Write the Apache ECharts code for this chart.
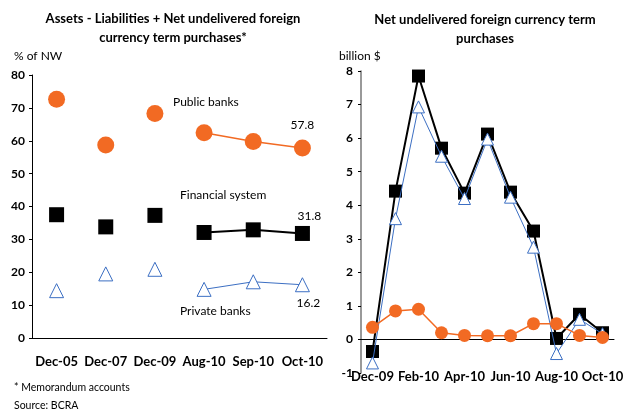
<!DOCTYPE html>
<html>
<head>
<meta charset="utf-8">
<script src="https://cdn.jsdelivr.net/npm/echarts@6/dist/echarts.min.js"></script>
<style>
  html, body { margin: 0; padding: 0; background: #fff; }
  #main { width: 626px; height: 411px; }
</style>
</head>
<body>
<div id="main"></div>
<script>
// left panel: % of net worth
var leftCats = ['Dec-05', 'Dec-07', 'Dec-09', 'Aug-10', 'Sep-10', 'Oct-10'];
var leftPublic = [72.6, 58.7, 68.3, 62.4, 59.8, 57.8];
var leftSystem = [37.5, 33.8, 37.3, 32.1, 32.9, 31.8];
var leftPrivate = [14.4, 19.5, 20.9, 14.8, 17.1, 16.2];
var leftTicks = [0, 10, 20, 30, 40, 50, 60, 70, 80];

// right panel: billion $
var rightCats = ['Dec-09', 'Jan-10', 'Feb-10', 'Mar-10', 'Apr-10', 'May-10',
                 'Jun-10', 'Jul-10', 'Aug-10', 'Sep-10', 'Oct-10'];
var rightSystem = [-0.36, 4.42, 7.85, 5.7, 4.36, 6.12, 4.39, 3.23, 0.03, 0.75, 0.2];
var rightPrivate = [-0.7, 3.6, 6.93, 5.46, 4.2, 5.97, 4.24, 2.75, -0.42, 0.6, 0.17];
var rightPublic = [0.36, 0.85, 0.9, 0.2, 0.12, 0.11, 0.11, 0.47, 0.47, 0.12, 0.06];
var rightTicks = [-1, 0, 1, 2, 3, 4, 5, 6, 7, 8];

var ORANGE = '#f26a23';
var BLUE = '#3c6fc3';
var FONT = 'Lato';

var myChart = echarts.init(document.getElementById('main'));

// only the last three months are joined by a line
function recentOnly(arr) {
    return arr.map(function (v, i) { return i >= 3 ? v : null; });
}
function lastLabel(arr, pos, offset) {
    return arr.map(function (v, i) {
        if (i != arr.length - 1) return v;
        return { value: v, label: { show: true, position: pos, offset: offset,
            formatter: v.toFixed(1), color: '#000', fontFamily: FONT, fontSize: 12 } };
    });
}

var boldAxisLabel = { color: '#000', fontFamily: FONT, fontWeight: 'bold', fontSize: 12 };

var option = {
    animation: false,
    backgroundColor: '#fff',
    title: [
        { text: 'Assets - Liabilities + Net undelivered foreign\ncurrency term purchases*',
          left: 168, top: 4, textAlign: 'center',
          textStyle: { fontFamily: FONT, fontWeight: 'bold', fontSize: 13, lineHeight: 19, color: '#000' } },
        { text: 'Net undelivered foreign currency term\npurchases',
          left: 480, top: 5, textAlign: 'center',
          textStyle: { fontFamily: FONT, fontWeight: 'bold', fontSize: 13, lineHeight: 19, color: '#000' } },
        { text: '% of NW', left: 9, top: 45,
          textStyle: { fontFamily: FONT, fontWeight: 'normal', fontSize: 12, color: '#000' } },
        { text: 'billion $', left: 334, top: 45,
          textStyle: { fontFamily: FONT, fontWeight: 'normal', fontSize: 12, color: '#000' } },
        { text: '* Memorandum accounts', left: 9, top: 377,
          textStyle: { fontFamily: FONT, fontWeight: 'normal', fontSize: 10.5, color: '#000' } },
        { text: 'Source: BCRA', left: 9, top: 395,
          textStyle: { fontFamily: FONT, fontWeight: 'normal', fontSize: 10.5, color: '#000' } }
    ],
    graphic: [
        { type: 'text', left: 173, top: 96, style: { text: 'Public banks', fontFamily: FONT, fontSize: 12, fill: '#000' } },
        { type: 'text', left: 180, top: 189, style: { text: 'Financial system', fontFamily: FONT, fontSize: 12, fill: '#000' } },
        { type: 'text', left: 180, top: 305, style: { text: 'Private banks', fontFamily: FONT, fontSize: 12, fill: '#000' } }
    ],
    grid: [
        { left: 32, top: 75, width: 295, height: 263 },
        { left: 361, top: 71, width: 258, height: 302 }
    ],
    xAxis: [
        { type: 'category', gridIndex: 0, data: leftCats, boundaryGap: true,
          axisLine: { lineStyle: { color: '#000', width: 1 } },
          axisTick: { inside: true, length: 5, interval: 0, lineStyle: { color: '#000' } },
          axisLabel: Object.assign({}, boldAxisLabel, { margin: 17, fontSize: 13, interval: 0 }) },
        { type: 'category', gridIndex: 1, data: rightCats, boundaryGap: true,
          axisLine: { onZero: true, lineStyle: { color: '#000', width: 1 } },
          axisTick: { inside: true, length: 5, interval: 1, lineStyle: { color: '#000' } },
          axisLabel: { show: false } },
        { type: 'category', gridIndex: 1, data: rightCats, boundaryGap: true, position: 'bottom',
          axisLine: { show: false, onZero: false }, axisTick: { show: false },
          axisLabel: Object.assign({}, boldAxisLabel, { margin: -3, interval: 1, fontSize: 13 }) }
    ],
    yAxis: [
        { type: 'value', gridIndex: 0, min: leftTicks[0], max: leftTicks[leftTicks.length - 1], interval: 10,
          splitLine: { show: false },
          axisLine: { show: true, lineStyle: { color: '#000' } },
          axisTick: { show: true, length: 3, lineStyle: { color: '#000' } },
          axisLabel: Object.assign({}, boldAxisLabel, { margin: 7 }) },
        { type: 'value', gridIndex: 1, min: rightTicks[0], max: rightTicks[rightTicks.length - 1], interval: 1,
          splitLine: { show: false },
          axisLine: { show: true, lineStyle: { color: '#777', width: 1.5 } },
          axisTick: { show: true, length: 3, lineStyle: { color: '#000' } },
          axisLabel: Object.assign({}, boldAxisLabel, { margin: 8 }) }
    ],
    series: [
        // left panel: connecting lines for latest months
        { type: 'line', xAxisIndex: 0, yAxisIndex: 0, data: recentOnly(leftPublic), symbol: 'none',
          lineStyle: { color: ORANGE, width: 1.5 }, z: 2 },
        { type: 'line', xAxisIndex: 0, yAxisIndex: 0, data: recentOnly(leftSystem), symbol: 'none',
          lineStyle: { color: '#000', width: 2 }, z: 2 },
        { type: 'line', xAxisIndex: 0, yAxisIndex: 0, data: recentOnly(leftPrivate), symbol: 'none',
          lineStyle: { color: BLUE, width: 1 }, z: 2 },
        // left panel: markers
        { type: 'scatter', xAxisIndex: 0, yAxisIndex: 0, data: lastLabel(leftPublic, 'top', [0, -3]),
          symbol: 'circle', symbolSize: 17, itemStyle: { color: ORANGE, opacity: 1 }, z: 3 },
        { type: 'scatter', xAxisIndex: 0, yAxisIndex: 0, data: lastLabel(leftSystem, 'top', [7, 1]),
          symbol: 'rect', symbolSize: 15, itemStyle: { color: '#000', opacity: 1 }, z: 3 },
        { type: 'scatter', xAxisIndex: 0, yAxisIndex: 0, data: lastLabel(leftPrivate, 'bottom', [6, 0]),
          symbol: 'triangle', symbolSize: 14, itemStyle: { color: '#fff', borderColor: BLUE, borderWidth: 1, opacity: 1 }, z: 3 },
        // right panel
        { type: 'line', xAxisIndex: 1, yAxisIndex: 1, data: rightSystem,
          symbol: 'rect', symbolSize: 13, itemStyle: { color: '#000' },
          lineStyle: { color: '#000', width: 2 }, z: 3 },
        { type: 'line', xAxisIndex: 1, yAxisIndex: 1, data: rightPrivate,
          symbol: 'triangle', symbolSize: 12, showAllSymbol: true,
          itemStyle: { color: '#fff', borderColor: BLUE, borderWidth: 1 },
          lineStyle: { color: BLUE, width: 1 }, z: 4 },
        { type: 'line', xAxisIndex: 1, yAxisIndex: 1, data: rightPublic,
          symbol: 'circle', symbolSize: 13, itemStyle: { color: ORANGE },
          lineStyle: { color: ORANGE, width: 1.5 }, z: 5 }
    ]
};
myChart.setOption(option);
</script>
</body>
</html>
